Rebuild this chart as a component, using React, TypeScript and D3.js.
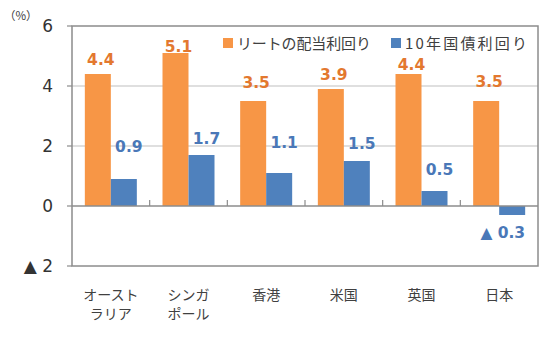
import React from "react";
import * as d3 from "d3";

const categories = ["オースト\nラリア", "シンガ\nポール", "香港", "米国", "英国", "日本"];
const seriesNames = ["リートの配当利回り", "10年国債利回り"];
const reitYield = [4.4, 5.1, 3.5, 3.9, 4.4, 3.5];
const bondYield = [0.9, 1.7, 1.1, 1.5, 0.5, -0.3];
const yTicks = [-2, 0, 2, 4, 6];
// label nudges (px above bar end)
const reitLabelGap = [9, 1, 13, 9, 4, 14];
const bondLabelGap = [27, 11, 25, 12, 16, -23];

const W = 550, H = 338;
const M = { left: 72, right: 538, top: 26, bottom: 266 };
const ORANGE = "#F79646", BLUE = "#4F81BD";
const ORANGE_T = "#E3782F", BLUE_T = "#4A78B8";
const FONT = "'Noto Sans CJK JP', 'Noto Sans', sans-serif";
const NUMFONT = "'DejaVu Sans', Verdana, sans-serif";

const fmt = (v: number) => (v < 0 ? "▲ " + Math.abs(v).toFixed(1) : v.toFixed(1));

export default function App() {
  const x = d3.scaleBand<string>().domain(categories).range([M.left, M.right]).padding(0);
  const bw = x.bandwidth();
  const x1 = d3.scaleBand<string>().domain(seriesNames).range([bw / 2 - 26, bw / 2 + 26]).padding(0);
  const y = d3.scaleLinear().domain([-2, 6]).range([M.bottom, M.top]);
  const sw = x1.bandwidth();
  const data = [reitYield, bondYield];
  const colors = [ORANGE, BLUE];

  return (
    <svg width={W} height={H} style={{ position: "absolute", left: 0, top: 0, background: "#fff" }}>
      {/* gridlines */}
      {yTicks.filter((t) => t === 2 || t === 4).map((t) => (
        <line key={"g" + t} x1={M.left} x2={M.right} y1={y(t)} y2={y(t)} stroke="#BFBFBF" strokeWidth={1} />
      ))}
      {/* bars */}
      {data.map((vals, si) =>
        vals.map((v, i) => {
          const bx = (x(categories[i]) as number) + (x1(seriesNames[si]) as number);
          return (
            <rect key={si + "-" + i} x={bx} y={Math.min(y(v), y(0))} width={sw}
              height={Math.abs(y(v) - y(0))} fill={colors[si]} />
          );
        })
      )}
      {/* zero line */}
      <line x1={M.left} x2={M.right} y1={y(0)} y2={y(0)} stroke="#8C8C8C" strokeWidth={1.5} />
      {/* category ticks */}
      {categories.slice(1).map((c) => (
        <line key={"ct" + c} x1={x(c) as number} x2={x(c) as number} y1={y(0)} y2={y(0) - 6} stroke="#8C8C8C" strokeWidth={1.2} />
      ))}
      {/* frame */}
      <rect x={M.left} y={M.top} width={M.right - M.left} height={M.bottom - M.top} fill="none" stroke="#8C8C8C" strokeWidth={1.5} />
      {/* y ticks */}
      {yTicks.map((t) => (
        <g key={"yt" + t}>
          <line x1={M.left - 5} x2={M.left} y1={y(t)} y2={y(t)} stroke="#8C8C8C" strokeWidth={1.2} />
          <text x={53} y={y(t)} dy="0.36em" textAnchor="end" fontFamily={NUMFONT} fontSize={17} fill="#333">
            {t < 0 ? "▲ " + Math.abs(t) : String(t)}
          </text>
        </g>
      ))}
      <text x={4} y={20} fontFamily={FONT} fontSize={11.5} fill="#404040">（%）</text>
      {/* data labels */}
      {reitYield.map((v, i) => {
        const cx = (x(categories[i]) as number) + (x1(seriesNames[0]) as number) + sw / 2 + 3;
        return (
          <text key={"rl" + i} x={cx} y={y(v) - reitLabelGap[i]} textAnchor="middle" fontFamily={NUMFONT}
            fontWeight="bold" fontSize={15.5} fill={ORANGE_T}>{fmt(v)}</text>
        );
      })}
      {bondYield.map((v, i) => {
        const bx = (x(categories[i]) as number) + (x1(seriesNames[1]) as number);
        if (v < 0) {
          return (
            <text key={"bl" + i} x={bx + sw} y={y(v) - bondLabelGap[i]} textAnchor="end" fontFamily={NUMFONT}
              fontWeight="bold" fontSize={15.5} fill={BLUE_T}>{fmt(v)}</text>
          );
        }
        return (
          <text key={"bl" + i} x={bx + sw / 2 + 5} y={y(v) - bondLabelGap[i]} textAnchor="middle" fontFamily={NUMFONT}
            fontWeight="bold" fontSize={15.5} fill={BLUE_T}>{fmt(v)}</text>
        );
      })}
      {/* x labels */}
      {categories.map((c) => {
        const lines = c.split("\n");
        const cx = (x(c) as number) + bw / 2;
        return (
          <text key={"xl" + c} textAnchor="middle" fontFamily={FONT} fontSize={14} fill="#404040">
            {lines.map((l, j) => (
              <tspan key={j} x={cx} y={300 + j * 19}>{l}</tspan>
            ))}
          </text>
        );
      })}
      {/* legend */}
      <rect x={223} y={38} width={10} height={10} fill={ORANGE} />
      <text x={237} y={48.5} fontFamily={FONT} fontSize={15} fill="#404040" textLength={134} lengthAdjust="spacing">{seriesNames[0]}</text>
      <rect x={391} y={38} width={10} height={10} fill={BLUE} />
      <text x={405} y={48.5} fontFamily={FONT} fontSize={15} fill="#404040" textLength={122} lengthAdjust="spacing">{seriesNames[1]}</text>
    </svg>
  );
}
